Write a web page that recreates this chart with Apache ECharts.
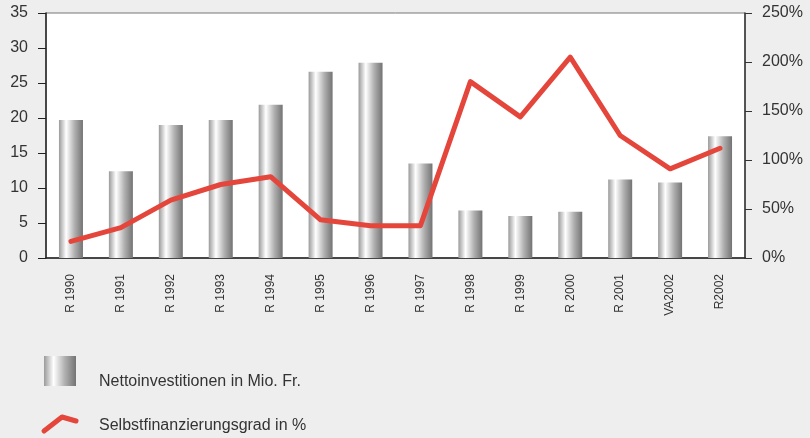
<!DOCTYPE html>
<html>
<head>
<meta charset="utf-8">
<script src="https://cdn.jsdelivr.net/npm/echarts@6/dist/echarts.min.js"></script>
<style>
  html, body { margin: 0; padding: 0; background: #eeeeee; }
  #chart { width: 810px; height: 438px; }
</style>
</head>
<body>
<div id="chart"></div>
<script>
var categories = ['R 1990', 'R 1991', 'R 1992', 'R 1993', 'R 1994', 'R 1995', 'R 1996',
  'R 1997', 'R 1998', 'R 1999', 'R 2000', 'R 2001', 'VA2002', 'R2002']
var investitionen = [19.7, 12.4, 19.0, 19.7, 21.9, 26.6, 27.9, 13.5, 6.8, 6.0, 6.6, 11.2, 10.8, 17.4]
var selbstfinanzierung = [17, 31, 59, 75, 83, 39, 33, 33, 180, 144, 205, 125, 91, 112]
var leftTicks = { min: 0, max: 35, interval: 5 }
var rightTicks = { min: 0, max: 250, interval: 50 }

var textColor = '#333333'
var fontName = 'Liberation Sans'
var barGradient = {
  type: 'linear', x: 0, y: 0, x2: 1, y2: 0,
  colorStops: [
    { offset: 0, color: '#9a9a9a' },
    { offset: 0.3, color: '#ffffff' },
    { offset: 0.65, color: '#b0b0b0' },
    { offset: 1, color: '#737373' }
  ]
}
var lineColor = '#e4463b'

var chart = echarts.init(document.getElementById('chart'))
var option = {
  backgroundColor: '#eeeeee',
  animation: false,
  textStyle: { fontFamily: fontName },
  grid: {
    left: 46, right: 65, top: 13, bottom: 180,
    show: true,
    backgroundColor: '#ffffff',
    borderColor: '#777777',
    borderWidth: 1
  },
  xAxis: {
    type: 'category',
    data: categories,
    boundaryGap: true,
    axisLine: { show: true, lineStyle: { color: '#222222', width: 1.5 } },
    axisTick: { show: false },
    axisLabel: {
      rotate: 90,
      margin: 16,
      interval: 0,
      color: textColor,
      fontSize: 12,
      fontFamily: fontName
    },
    splitLine: { show: false }
  },
  yAxis: [{
    type: 'value',
    position: 'left',
    min: leftTicks.min,
    max: leftTicks.max,
    interval: leftTicks.interval,
    axisLine: { show: true, lineStyle: { color: '#222222', width: 1.5 } },
    axisTick: { show: true, length: 8, lineStyle: { color: '#222222' } },
    axisLabel: { margin: 18, color: textColor, fontSize: 16, fontFamily: fontName },
    splitLine: { show: false }
  }, {
    type: 'value',
    position: 'right',
    min: rightTicks.min,
    max: rightTicks.max,
    interval: rightTicks.interval,
    axisLine: { show: true, lineStyle: { color: '#333333', width: 1.5 } },
    axisTick: { show: true, length: 7, lineStyle: { color: '#333333' } },
    axisLabel: { margin: 17, color: textColor, fontSize: 16, fontFamily: fontName, formatter: '{value}%' },
    splitLine: { show: false }
  }],
  series: [{
    name: 'Nettoinvestitionen in Mio. Fr.',
    type: 'bar',
    yAxisIndex: 0,
    barWidth: 24,
    itemStyle: { color: barGradient },
    data: investitionen
  }, {
    name: 'Selbstfinanzierungsgrad in %',
    type: 'line',
    yAxisIndex: 1,
    symbol: 'none',
    lineStyle: { color: lineColor, width: 5, cap: 'round', join: 'round' },
    data: selbstfinanzierung,
    z: 5
  }],
  graphic: [{
    type: 'rect',
    left: 44, top: 356,
    shape: { width: 32, height: 30 },
    style: { fill: barGradient }
  }, {
    type: 'text',
    left: 99, top: 374,
    style: { text: 'Nettoinvestitionen in Mio. Fr.', fill: textColor, font: '16px "Liberation Sans"' }
  }, {
    type: 'polyline',
    shape: { points: [[44, 431], [62, 417], [76, 421]] },
    style: { stroke: lineColor, lineWidth: 5, lineCap: 'round', lineJoin: 'round', fill: null }
  }, {
    type: 'text',
    left: 99, top: 418,
    style: { text: 'Selbstfinanzierungsgrad in %', fill: textColor, font: '16px "Liberation Sans"' }
  }]
}
chart.setOption(option)
</script>
</body>
</html>
